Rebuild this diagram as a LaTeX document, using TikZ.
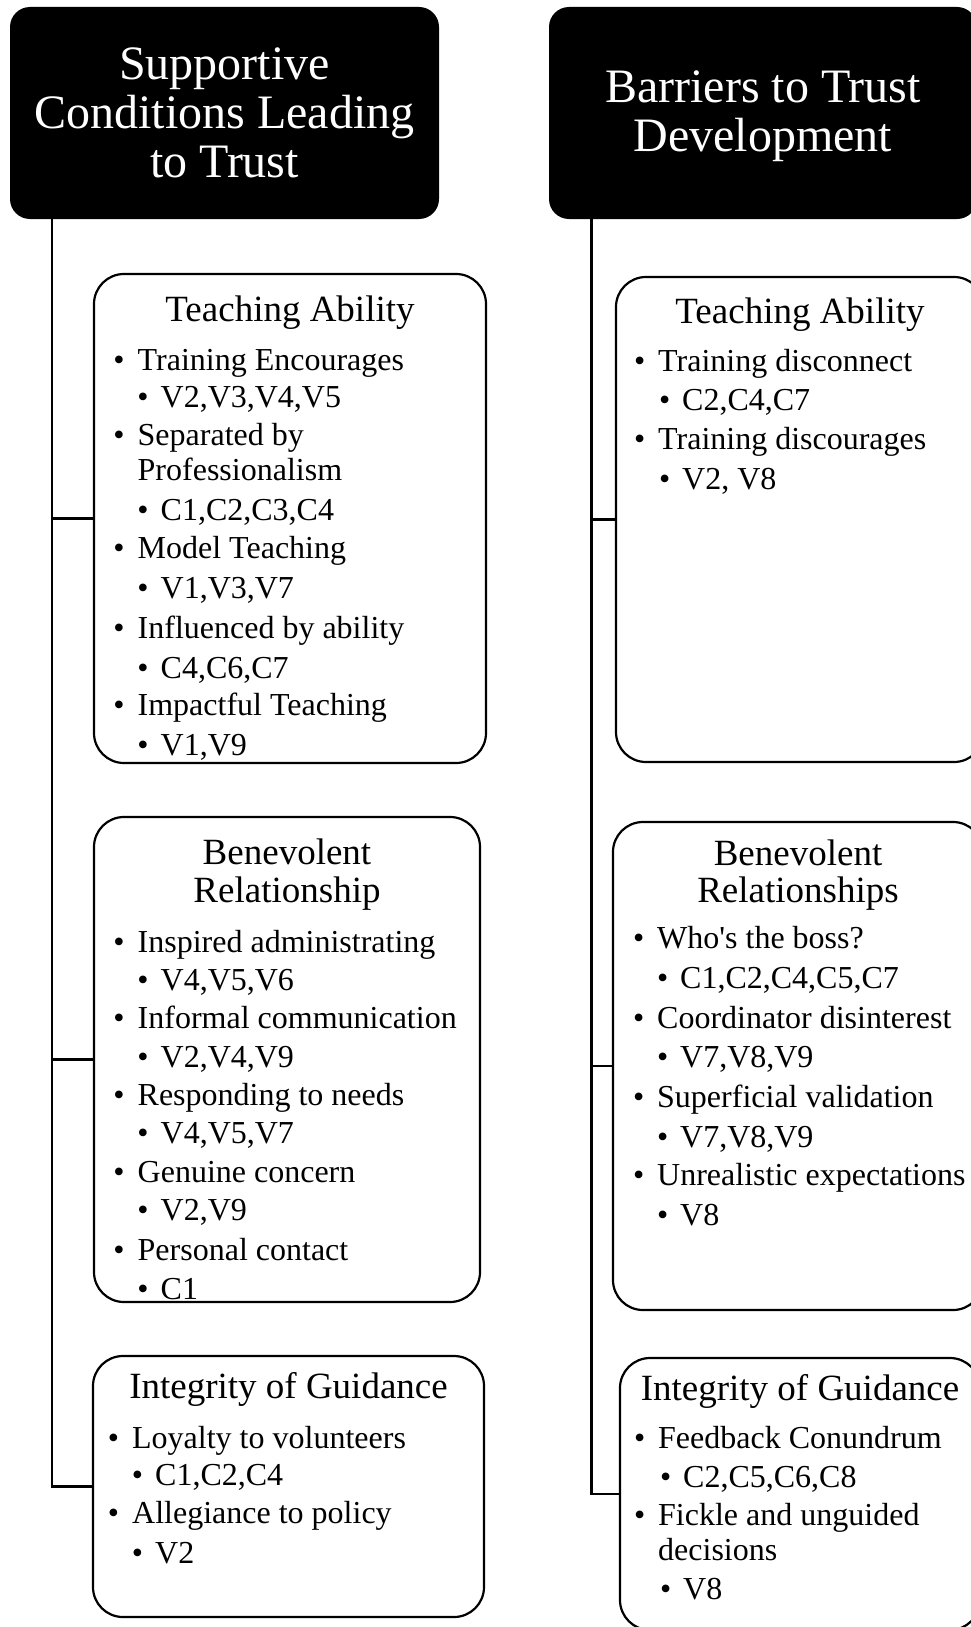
\documentclass[tikz,border=0pt]{standalone}
\usepackage{fontspec}
\setmainfont{Liberation Serif}
\newfontfamily\rawserif{Liberation Serif}
\newcommand\hdrfont{\fontsize{48}{48.7}\selectfont}
\newcommand\ttlfont{\fontsize{37}{44}\selectfont}
\newcommand\itmfont{\fontsize{32}{38}\selectfont}
\tikzset{
 hdr/.style={rectangle, rounded corners=20pt, fill=black, text=white, font=\hdrfont, align=center, inner sep=0},
 cat/.style={rectangle, rounded corners=30pt, draw=black, line width=2.2pt, fill=white, inner sep=0},
 ttl/.style={anchor=base, inner sep=0, font=\ttlfont},
 la/.style={anchor=base west, inner sep=0, font=\itmfont, execute at begin node={\llap{•\hspace{13pt}}}},
 lb/.style={anchor=base west, inner sep=0, font=\itmfont, execute at begin node={\llap{•\hspace{12pt}}}},
 lc/.style={anchor=base west, inner sep=0, font=\itmfont},
 conn/.style={line width=2.6pt},
}
\begin{document}
\begin{tikzpicture}[x=1pt,y=-1pt]
\useasboundingbox (0,0) rectangle (971,1627);
\clip (0,0) rectangle (971,1627);
\fill[white] (0,0) rectangle (971,1627);

% headers
\node[hdr, minimum width=429pt, minimum height=212pt] (h1) at (224.5,113) {Supportive\\Conditions Leading\\to Trust};
\node[hdr, minimum width=428pt, minimum height=212pt] (h2) at (763,113) {\raisebox{-4.5pt}[\height][\depth]{\begin{tabular}{@{}c@{}}Barriers to Trust\\Development\end{tabular}}};

% connectors
\coordinate (lx) at (52,0);
\coordinate (rx) at (591.5,0);
\coordinate (lta-w) at (94,518.5);
\coordinate (lben-w) at (94,1059.5);
\coordinate (lint-w) at (93,1486.5);
\coordinate (rta-w) at (616,519.5);
\coordinate (rben-w) at (613,1066);
\coordinate (rint-w) at (620,1494);
\draw[conn] (h1.south -| lx) |- (lta-w);
\draw[conn] (h1.south -| lx) |- (lben-w);
\draw[conn] (h1.south -| lx) |- (lint-w);
\draw[conn] (h2.south -| rx) |- (rta-w);
\draw[conn] (h2.south -| rx) |- (rben-w);
\draw[conn] (h2.south -| rx) |- (rint-w);

% category boxes
\node[cat, minimum width=392pt, minimum height=489pt] (lta) at (290,518.5) {};
\node[cat, minimum width=386pt, minimum height=485pt] (lben) at (287,1059.5) {};
\node[cat, minimum width=391pt, minimum height=261pt] (lint) at (288.5,1486.5) {};
\node[cat, minimum width=368pt, minimum height=485pt] (rta) at (800,519.5) {};
\node[cat, minimum width=370pt, minimum height=488pt] (rben) at (798,1066) {};
\node[cat, minimum width=360pt, minimum height=272pt] (rint) at (800,1494) {};

% left: Teaching Ability
\node[ttl] (lta-t) at (290,321) {Teaching Ability};
\node[la] (lta-1) at (137.5,370) {Training Encourages};
\node[lb] (lta-2) at (160.5,407) {V2,V3,V4,V5};
\node[la] (lta-3) at (137.5,445) {Separated by};
\node[lc] (lta-4) at (137.5,480) {Professionalism};
\node[lb] (lta-5) at (160.5,520) {C1,C2,C3,C4};
\node[la] (lta-6) at (137.5,558) {Model Teaching};
\node[lb] (lta-7) at (160.5,598) {V1,V3,V7};
\node[la] (lta-8) at (137.5,638) {Influenced by ability};
\node[lb] (lta-9) at (160.5,678) {C4,C6,C7};
\node[la] (lta-10) at (137.5,715) {Impactful Teaching};
\node[lb] (lta-11) at (160.5,755) {V1,V9};

% left: Benevolent Relationship
\node[ttl] (lben-t1) at (287,864) {Benevolent};
\node[ttl] (lben-t2) at (287,902) {Relationship};
\node[la] (lben-1) at (137.5,952) {Inspired administrating};
\node[lb] (lben-2) at (160.5,990) {V4,V5,V6};
\node[la] (lben-3) at (137.5,1028) {Informal communication};
\node[lb] (lben-4) at (160.5,1067) {V2,V4,V9};
\node[la] (lben-5) at (137.5,1105) {Responding to needs};
\node[lb] (lben-6) at (160.5,1143) {V4,V5,V7};
\node[la] (lben-7) at (137.5,1182) {Genuine concern};
\node[lb] (lben-8) at (160.5,1220) {V2,V9};
\node[la] (lben-9) at (137.5,1260) {Personal contact};
\node[lb] (lben-10) at (160.5,1299) {C1};

% left: Integrity of Guidance
\node[ttl] (lint-t) at (288.5,1398) {Integrity of Guidance};
\node[la] (lint-1) at (132,1448) {Loyalty to volunteers};
\node[lb] (lint-2) at (155,1485) {C1,C2,C4};
\node[la] (lint-3) at (132,1523) {Allegiance to policy};
\node[lb] (lint-4) at (155,1563) {V2};

% right: Teaching Ability
\node[ttl] (rta-t) at (800,323) {Teaching Ability};
\node[la] (rta-1) at (658,371) {Training disconnect};
\node[lb] (rta-2) at (682,410) {C2,C4,C7};
\node[la] (rta-3) at (658,449) {Training discourages};
\node[lb] (rta-4) at (682,489) {V2, V8};

% right: Benevolent Relationships
\node[ttl] (rben-t1) at (798,865) {Benevolent};
\node[ttl] (rben-t2) at (798,902) {Relationships};
\node[la] (rben-1) at (657,948) {Who{\rawserif'}s the boss?};
\node[lb] (rben-2) at (680,988) {C1,C2,C4,C5,C7};
\node[la] (rben-3) at (657,1028) {Coordinator disinterest};
\node[lb] (rben-4) at (680,1067) {V7,V8,V9};
\node[la] (rben-5) at (657,1107) {Superficial validation};
\node[lb] (rben-6) at (680,1147) {V7,V8,V9};
\node[la] (rben-7) at (657,1185) {Unrealistic expectations};
\node[lb] (rben-8) at (680,1225) {V8};

% right: Integrity of Guidance
\node[ttl] (rint-t) at (800,1400) {Integrity of Guidance};
\node[la] (rint-1) at (658,1448) {Feedback Conundrum};
\node[lb] (rint-2) at (683,1487) {C2,C5,C6,C8};
\node[la] (rint-3) at (658,1525) {Fickle and unguided};
\node[lc] (rint-4) at (658,1560) {decisions};
\node[lb] (rint-5) at (683,1599) {V8};
\end{tikzpicture}
\end{document}
